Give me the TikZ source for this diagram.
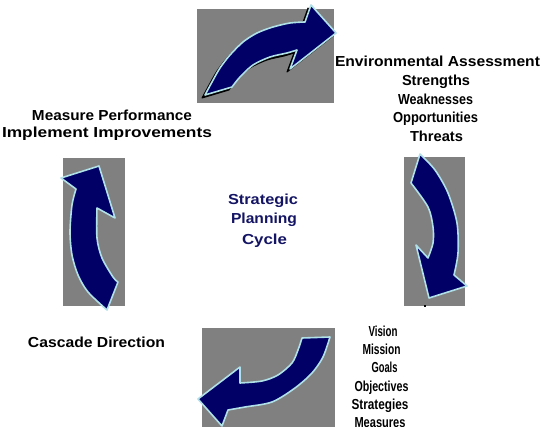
\documentclass[tikz,border=0pt]{standalone}
\usepackage{fontspec}
\setmainfont{Liberation Sans}
\usepackage{graphicx}
\newcommand{\fitw}[2]{\resizebox{#1pt}{\height}{#2}}
\definecolor{arrowblue}{RGB}{0,0,102}
\definecolor{rim}{RGB}{176,224,232}
\definecolor{boxgray}{RGB}{128,128,128}
\definecolor{titleblue}{RGB}{20,20,100}
\begin{document}
\begin{tikzpicture}[x=1pt,y=-1pt,
  panel/.style={fill=boxgray, draw=none},
  bigarrow/.style={fill=arrowblue, draw=rim, line width=1.6pt, line join=round},
  shade/.style={fill=black, draw=black, line width=1pt, line join=round},
  lbl/.style={inner sep=0pt, anchor=base, font=\fontsize{14.5}{17}\selectfont\bfseries},
  title/.style={lbl, text=titleblue}]
\useasboundingbox (0,0) rectangle (543,427);
\fill[white] (0,0) rectangle (543,427);
% panels
\fill[panel] (197,9) rectangle (334,103);
\fill[panel] (404,157) rectangle (465,306);
\fill[panel] (202,328) rectangle (335,427);
\fill[panel] (63,158) rectangle (125,306);
% top arrow shadow
\path[shade, shift={(-3,3)}] (205,95) -- (232,87) -- plot[smooth] coordinates {(232,87) (240,77) (253,65) (270,57) (287,53) (297,50)} -- (290,69) -- (336,33) -- (311,5) -- (305,22) -- plot[smooth] coordinates {(305,22) (290,23) (273,27) (257,33) (243,42) (230,55) (220,68) (212,82) (205,95)} -- cycle;
% top arrow
\path[bigarrow] (205,95) -- (232,87) -- plot[smooth] coordinates {(232,87) (240,77) (253,65) (270,57) (287,53) (297,50)} -- (290,69) -- (336,33) -- (311,5) -- (305,22) -- plot[smooth] coordinates {(305,22) (290,23) (273,27) (257,33) (243,42) (230,55) (220,68) (212,82) (205,95)} -- cycle;
% right arrow
\path[bigarrow] (420,154) -- (411,183) -- plot[smooth] coordinates {(411,183) (428,207) (433,227) (433,243) (428,258)} -- (416,245) -- (429,298) -- (467,286) -- (454,275) -- plot[smooth] coordinates {(454,275) (458,253) (457,223) (448,193) (435,170) (420,154)} -- cycle;
\fill (424,305) rectangle (426,307);
% bottom arrow
\path[bigarrow] (302,338) -- (330,337) -- plot[smooth] coordinates {(330,337) (323,357) (312,373) (295,388) (272,402) (245,407) (228,410)} -- (222,426) -- (198,399) -- (240,367) -- (240,383) -- plot[smooth] coordinates {(240,383) (262,381) (278,375) (292,363) (298,350) (302,338)} -- cycle;
% left arrow
\path[bigarrow] (99,166) -- (61,178) -- (76,189) -- plot[smooth] coordinates {(76,189) (72,205) (70,232) (72,255) (78,275) (88,292) (107,310)} -- (118,282) -- plot[smooth] coordinates {(118,282) (113,277) (102,258) (97,238) (97,208)} -- (115,218) -- cycle;
% texts: environmental assessment
\node[lbl] (env) at (437.5,67) {\fitw{205}{Environmental Assessment}};
\node[lbl] (str) at (436,86) {\fitw{68}{Strengths}};
\node[lbl] (wea) at (435.5,105) {\fitw{75}{Weaknesses}};
\node[lbl] (opp) at (435.5,123) {\fitw{85}{Opportunities}};
\node[lbl] (thr) at (436.5,142) {\fitw{53}{Threats}};
% measure
\node[lbl] (mea) at (112,121) {\fitw{160}{Measure Performance}};
\node[lbl] (imp) at (107,138) {\fitw{210}{Implement Improvements}};
% centre
\node[title] (stra) at (263,205) {\fitw{70}{Strategic}};
\node[title] (plan) at (264,224) {\fitw{66}{Planning}};
\node[title] (cyc) at (264.5,245) {\fitw{45}{Cycle}};
% cascade
\node[lbl] (cas) at (96.5,348) {\fitw{137}{Cascade Direction}};
% vision list
\node[lbl] (vis) at (383,336) {\fitw{29}{Vision}};
\node[lbl] (mis) at (381.5,354) {\fitw{38}{Mission}};
\node[lbl] (goa) at (384.5,372) {\fitw{26}{Goals}};
\node[lbl] (obj) at (381.5,391) {\fitw{54}{Objectives}};
\node[lbl] (strat) at (380,409) {\fitw{57}{Strategies}};
\node[lbl] (measu) at (380,427.5) {\fitw{51}{Measures}};
\end{tikzpicture}
\end{document}
